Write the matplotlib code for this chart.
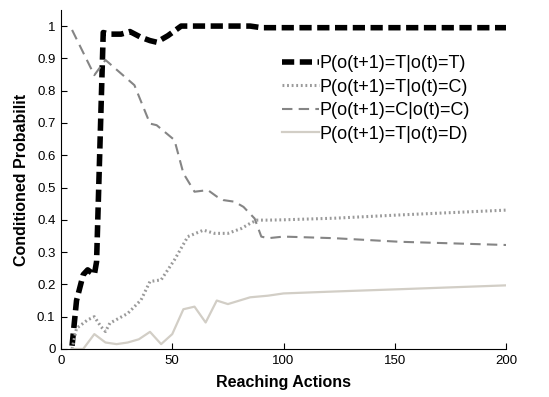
import matplotlib.pyplot as plt
import numpy as np

plt.rcParams['font.family'] = ['Liberation Sans', 'DejaVu Sans']

# P(o(t+1)=T | o(t)=T)
x_tt = [5, 7, 10, 12, 15, 16, 19, 22, 27, 31, 36, 40, 43, 48, 54, 60, 70, 80, 85, 90, 100, 150, 200]
y_tt = [0.01, 0.15, 0.23, 0.245, 0.23, 0.27, 0.98, 0.975, 0.975, 0.983, 0.965, 0.955, 0.95, 0.97,
        1.0, 1.0, 1.0, 1.0, 1.0, 0.995, 0.995, 0.995, 0.995]

# P(o(t+1)=T | o(t)=C)
x_tc = [5, 7, 12, 15, 18, 20, 22, 30, 36, 40, 45, 51, 57, 64, 69, 75, 81, 85, 88, 93, 100, 123, 152, 200]
y_tc = [0.0, 0.064, 0.09, 0.1, 0.069, 0.054, 0.08, 0.11, 0.152, 0.209, 0.214, 0.276, 0.348, 0.368,
        0.358, 0.358, 0.373, 0.389, 0.399, 0.399, 0.4, 0.405, 0.415, 0.43]

# P(o(t+1)=C | o(t)=C)
x_cc = [5, 15, 20, 33, 40, 43, 51, 55, 60, 66, 70, 73, 78, 82, 87, 90, 93, 100, 123, 152, 200]
y_cc = [0.988, 0.848, 0.895, 0.817, 0.698, 0.693, 0.647, 0.544, 0.487, 0.492, 0.472, 0.461,
        0.456, 0.44, 0.404, 0.348, 0.343, 0.348, 0.343, 0.332, 0.322]

# P(o(t+1)=T | o(t)=D)
x_td = [5, 10, 15, 20, 25, 30, 35, 40, 45, 50, 55, 60, 65, 70, 75, 85, 93, 100, 123, 152, 200]
y_td = [0.0, 0.0, 0.046, 0.02, 0.015, 0.02, 0.03, 0.053, 0.015, 0.046, 0.123, 0.131, 0.082,
        0.15, 0.139, 0.16, 0.165, 0.172, 0.178, 0.185, 0.197]

labels = ['P(o(t+1)=T|o(t)=T)', 'P(o(t+1)=T|o(t)=C)',
          'P(o(t+1)=C|o(t)=C)', 'P(o(t+1)=T|o(t)=D)']

fig = plt.figure(figsize=(5.49, 3.97), dpi=100)
ax = fig.add_axes([0.111, 0.121, 0.811, 0.854])

ax.plot(x_tt, y_tt, color='black', lw=4, linestyle=(0, (2.2, 1.0)), label=labels[0])
ax.plot(x_tc, y_tc, color='#9a9a9a', lw=2.2, linestyle=(0, (0.6, 0.9)), label=labels[1])
ax.plot(x_cc, y_cc, color='#858585', lw=1.5, linestyle=(0, (5, 3)), label=labels[2])
ax.plot(x_td, y_td, color='#d2cec6', lw=1.6, linestyle='-', label=labels[3])

ax.set_xlim(0, 200)
ax.set_ylim(0, 1.05)
ax.set_xticks([0, 50, 100, 150, 200])
ax.set_yticks(np.arange(0, 1.01, 0.1))
ax.set_yticklabels(['0', '0.1', '0.2', '0.3', '0.4', '0.5', '0.6', '0.7', '0.8', '0.9', '1'])
ax.tick_params(direction='in', length=4, labelsize=9.5, pad=4)
ax.spines['top'].set_visible(False)
ax.spines['right'].set_visible(False)

ax.set_xlabel('Reaching Actions', fontsize=11.5, fontweight='bold', labelpad=6)
ax.set_ylabel('Conditioned Probabilit', fontsize=11.5, fontweight='bold')
ax.yaxis.set_label_coords(-0.072, 0.5)

ax.legend(loc='upper left', bbox_to_anchor=(0.48, 0.888), frameon=False, fontsize=13,
          handlelength=2.05, handletextpad=0.05, labelspacing=0.36, borderaxespad=0)

plt.savefig('out.png', dpi=100)
